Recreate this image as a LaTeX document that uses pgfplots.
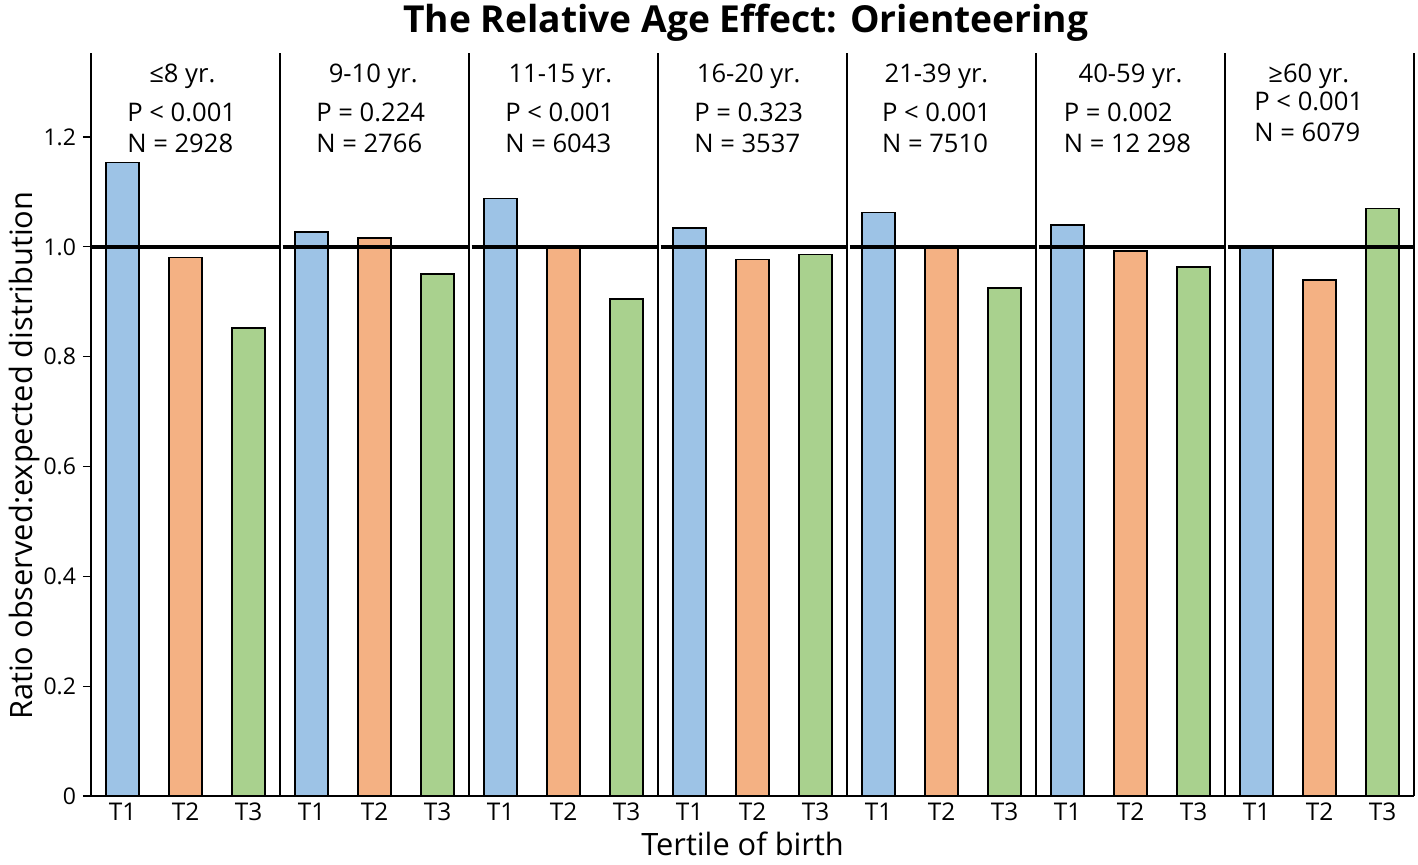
\documentclass[border=0pt]{standalone}
\usepackage{fontspec}
\setmainfont{Open Sans}
\usepackage{pgfplots}
\pgfplotsset{compat=1.18}
\definecolor{cT1}{HTML}{9DC3E6}
\definecolor{cT2}{HTML}{F4B183}
\definecolor{cT3}{HTML}{A9D18E}
\newcommand{\annfont}{\fontsize{12.8}{15.5}\selectfont}
\begin{document}
\begin{tikzpicture}
\begin{axis}[
  name=ax,
  scale only axis, width=661.5pt, height=371.5pt,
  xmin=-0.5, xmax=20.5, ymin=0, ymax=1.353,
  axis x line*=bottom, axis y line*=left,
  axis line style={black, line width=0.75pt},
  /pgf/number format/assume math mode=true,
  ytick={0,0.2,0.4,0.6,0.8,1.0,1.2},
  yticklabels={0,0.2,0.4,0.6,0.8,1.0,1.2},
  xtick={0,1,2,3,4,5,6,7,8,9,10,11,12,13,14,15,16,17,18,19,20},
  xticklabels={T1,T2,T3,T1,T2,T3,T1,T2,T3,T1,T2,T3,T1,T2,T3,T1,T2,T3,T1,T2,T3},
  x tick style={draw=none},
  y tick style={black, line width=0.6pt},
  tick align=outside, major tick length=4pt,
  yticklabel style={font=\fontsize{11.5}{13}\selectfont},
  xticklabel style={font=\fontsize{12.2}{14}\selectfont, yshift=4pt},
  extra x ticks={2.5,5.5,8.5,11.5,14.5,17.5,20.5},
  extra x tick labels={},
  extra x tick style={grid=major, major grid style={black, line width=0.75pt}, tick style={draw=none}},
  xlabel={Tertile of birth},
  xlabel style={at={(axis description cs:0.4925,0)}, anchor=base, yshift=-29.5pt, font=\fontsize{15.4}{18}\selectfont},
  ylabel={Ratio observed:expected distribution},
  ylabel style={at={(axis description cs:-0.0499,0.458)}, anchor=center, font=\fontsize{15.4}{18}\selectfont},
  title={\textbf{The Relative Age Effect: Orienteering}},
  title style={at={(axis description cs:0.495,1)}, anchor=base, yshift=4.5pt, font=\fontsize{18.6}{22}\selectfont},
]
\addplot[ybar, bar width=0.525, bar shift=0pt, fill=cT1, draw=black, line width=0.75pt]
  coordinates {(0,1.154) (3,1.027) (6,1.088) (9,1.034) (12,1.063) (15,1.040) (18,0.998)};
\addplot[ybar, bar width=0.525, bar shift=0pt, fill=cT2, draw=black, line width=0.75pt]
  coordinates {(1,0.981) (4,1.016) (7,0.997) (10,0.977) (13,0.997) (16,0.992) (19,0.940)};
\addplot[ybar, bar width=0.525, bar shift=0pt, fill=cT3, draw=black, line width=0.75pt]
  coordinates {(2,0.852) (5,0.951) (8,0.905) (11,0.986) (14,0.925) (17,0.963) (20,1.070)};
\addplot[black, line width=2pt] coordinates {(-0.5,1) (2.5,1)};
\addplot[black, line width=2pt] coordinates {(2.54,1) (5.5,1)};
\addplot[black, line width=2pt] coordinates {(5.54,1) (8.5,1)};
\addplot[black, line width=2pt] coordinates {(8.54,1) (11.5,1)};
\addplot[black, line width=2pt] coordinates {(11.54,1) (14.5,1)};
\addplot[black, line width=2pt] coordinates {(14.54,1) (17.5,1)};
\addplot[black, line width=2pt] coordinates {(17.54,1) (20.5,1)};
\node[font=\annfont] at (axis cs:0.95,1.311) {≤8 yr.};
\node[font=\annfont, align=left] at (axis cs:0.94,1.216) {P < 0.001\\N = 2928};
\node[font=\annfont] at (axis cs:3.98,1.311) {9-10 yr.};
\node[font=\annfont, align=left] at (axis cs:3.94,1.216) {P = 0.224\\N = 2766};
\node[font=\annfont] at (axis cs:6.95,1.311) {11-15 yr.};
\node[font=\annfont, align=left] at (axis cs:6.94,1.216) {P < 0.001\\N = 6043};
\node[font=\annfont] at (axis cs:9.94,1.311) {16-20 yr.};
\node[font=\annfont, align=left] at (axis cs:9.94,1.216) {P = 0.323\\N = 3537};
\node[font=\annfont] at (axis cs:12.92,1.311) {21-39 yr.};
\node[font=\annfont, align=left] at (axis cs:12.92,1.216) {P < 0.001\\N = 7510};
\node[font=\annfont] at (axis cs:16.0,1.311) {40-59 yr.};
\node[font=\annfont, align=left] at (axis cs:15.95,1.216) {P = 0.002\\N = 12 298};
\node[font=\annfont] at (axis cs:18.83,1.311) {≥60 yr.};
\node[font=\annfont, align=left] at (axis cs:18.83,1.236) {P < 0.001\\N = 6079};
\end{axis}
\pgfresetboundingbox
\path (ax.south west) ++(-45.5pt,-34pt) rectangle ++(709pt,432pt);
\end{tikzpicture}
\end{document}
